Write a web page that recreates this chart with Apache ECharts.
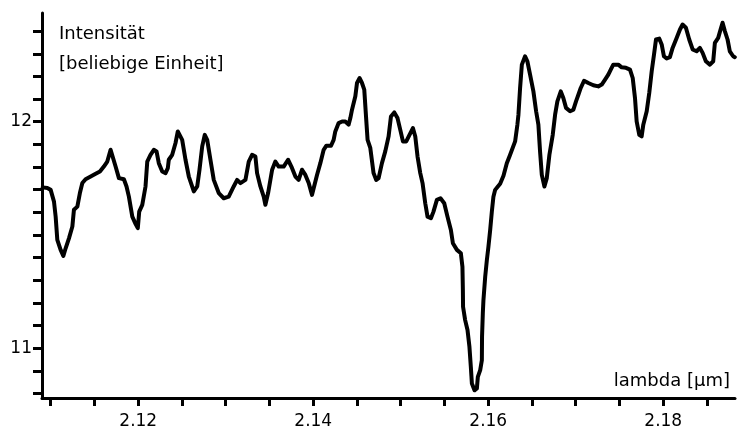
<!DOCTYPE html>
<html>
<head>
<meta charset="utf-8">
<title>Intensität über lambda</title>
<script src="https://cdn.jsdelivr.net/npm/echarts@6/dist/echarts.min.js"></script>
<style>
  html, body { margin: 0; padding: 0; background: #fff; }
  #chart { width: 744px; height: 430px; }
</style>
</head>
<body>
<div id="chart"></div>
<script>
// Wellenlänge in µm
const lambdaValues = [
  2.10908, 2.10961, 2.10999, 2.11037, 2.11056, 2.11075, 2.11113, 2.11144, 2.11170, 2.11208,
  2.11247, 2.11265, 2.11304, 2.11333, 2.11361, 2.11398, 2.11456, 2.11513, 2.11562, 2.11607,
  2.11646, 2.11684, 2.11703, 2.11741, 2.11779, 2.11836, 2.11866, 2.11893, 2.11932, 2.11969,
  2.11995, 2.12011, 2.12046, 2.12083, 2.12103, 2.12140, 2.12178, 2.12209, 2.12235, 2.12274,
  2.12312, 2.12338, 2.12349, 2.12388, 2.12426, 2.12452, 2.12464, 2.12502, 2.12540, 2.12578,
  2.12635, 2.12674, 2.12700, 2.12731, 2.12760, 2.12788, 2.12825, 2.12863, 2.12920, 2.12977,
  2.13034, 2.13091, 2.13130, 2.13168, 2.13225, 2.13263, 2.13301, 2.13339, 2.13358, 2.13396,
  2.13434, 2.13453, 2.13484, 2.13530, 2.13567, 2.13605, 2.13662, 2.13712, 2.13750, 2.13796,
  2.13833, 2.13872, 2.13910, 2.13948, 2.13986, 2.14043, 2.14081, 2.14119, 2.14150, 2.14203,
  2.14233, 2.14252, 2.14290, 2.14329, 2.14366, 2.14404, 2.14424, 2.14443, 2.14481, 2.14500,
  2.14530, 2.14557, 2.14583, 2.14603, 2.14621, 2.14652, 2.14689, 2.14720, 2.14747, 2.14785,
  2.14823, 2.14861, 2.14888, 2.14926, 2.14963, 2.14994, 2.15025, 2.15063, 2.15100, 2.15139,
  2.15166, 2.15192, 2.15223, 2.15249, 2.15280, 2.15306, 2.15345, 2.15374, 2.15413, 2.15454,
  2.15497, 2.15534, 2.15573, 2.15596, 2.15642, 2.15687, 2.15705, 2.15710, 2.15712, 2.15736,
  2.15763, 2.15785, 2.15801, 2.15813, 2.15843, 2.15870, 2.15881, 2.15908, 2.15927, 2.15929,
  2.15938, 2.15945, 2.15965, 2.15984, 2.16002, 2.16022, 2.16041, 2.16059, 2.16079, 2.16110,
  2.16136, 2.16174, 2.16212, 2.16250, 2.16307, 2.16333, 2.16345, 2.16364, 2.16384, 2.16421,
  2.16447, 2.16478, 2.16516, 2.16547, 2.16573, 2.16592, 2.16612, 2.16642, 2.16669, 2.16699,
  2.16737, 2.16764, 2.16790, 2.16829, 2.16858, 2.16889, 2.16935, 2.16973, 2.17003, 2.17030,
  2.17057, 2.17095, 2.17144, 2.17201, 2.17258, 2.17297, 2.17335, 2.17372, 2.17400, 2.17429,
  2.17486, 2.17525, 2.17574, 2.17620, 2.17651, 2.17677, 2.17696, 2.17726, 2.17753, 2.17772,
  2.17811, 2.17840, 2.17868, 2.17894, 2.17917, 2.17954, 2.17982, 2.18008, 2.18039, 2.18076,
  2.18107, 2.18153, 2.18191, 2.18221, 2.18259, 2.18297, 2.18336, 2.18381, 2.18419, 2.18450,
  2.18487, 2.18533, 2.18571, 2.18590, 2.18628, 2.18655, 2.18678, 2.18704, 2.18735, 2.18761,
  2.18799, 2.18818
];

// Intensität in beliebiger Einheit
const intensityValues = [
  11.710, 11.707, 11.699, 11.647, 11.581, 11.478, 11.434, 11.407, 11.441, 11.485,
  11.537, 11.611, 11.625, 11.685, 11.729, 11.746, 11.758, 11.770, 11.780, 11.802,
  11.824, 11.876, 11.869, 11.802, 11.751, 11.746, 11.714, 11.669, 11.581, 11.549,
  11.530, 11.603, 11.633, 11.714, 11.824, 11.854, 11.876, 11.869, 11.817, 11.780,
  11.773, 11.795, 11.832, 11.854, 11.906, 11.957, 11.965, 11.920, 11.832, 11.758,
  11.692, 11.714, 11.788, 11.891, 11.942, 11.920, 11.832, 11.743, 11.685, 11.662,
  11.669, 11.714, 11.743, 11.729, 11.743, 11.824, 11.854, 11.846, 11.773, 11.714,
  11.669, 11.633, 11.685, 11.788, 11.824, 11.802, 11.802, 11.832, 11.802, 11.758,
  11.743, 11.788, 11.765, 11.729, 11.677, 11.765, 11.817, 11.876, 11.894, 11.894,
  11.920, 11.957, 11.994, 12.001, 12.001, 11.987, 12.016, 12.053, 12.112, 12.171,
  12.193, 12.171, 12.142, 12.023, 11.920, 11.884, 11.773, 11.743, 11.751, 11.817,
  11.869, 11.935, 12.023, 12.041, 12.016, 11.965, 11.913, 11.913, 11.942, 11.972,
  11.935, 11.846, 11.773, 11.729, 11.640, 11.581, 11.574, 11.603, 11.655, 11.662,
  11.640, 11.581, 11.522, 11.463, 11.434, 11.419, 11.360, 11.257, 11.183, 11.124,
  11.080, 11.006, 10.917, 10.844, 10.814, 10.822, 10.873, 10.903, 10.947, 11.050,
  11.154, 11.212, 11.315, 11.389, 11.448, 11.522, 11.603, 11.669, 11.699, 11.714,
  11.726, 11.761, 11.817, 11.854, 11.913, 11.987, 12.031, 12.149, 12.252, 12.289,
  12.267, 12.208, 12.134, 12.046, 11.987, 11.869, 11.765, 11.714, 11.751, 11.854,
  11.942, 12.031, 12.090, 12.134, 12.105, 12.061, 12.046, 12.053, 12.090, 12.119,
  12.149, 12.181, 12.171, 12.161, 12.156, 12.164, 12.186, 12.208, 12.230, 12.252,
  12.252, 12.240, 12.238, 12.230, 12.193, 12.105, 12.001, 11.942, 11.935, 11.987,
  12.046, 12.127, 12.223, 12.296, 12.363, 12.367, 12.341, 12.289, 12.279, 12.285,
  12.326, 12.370, 12.407, 12.429, 12.415, 12.363, 12.319, 12.311, 12.326, 12.304,
  12.267, 12.252, 12.267, 12.348, 12.370, 12.407, 12.437, 12.400, 12.363, 12.311,
  12.289, 12.285
];

// Teilstriche und Beschriftungen der Achsen
const lambdaTicks = [2.110, 2.115, 2.120, 2.125, 2.130, 2.135, 2.140, 2.145,
                     2.150, 2.155, 2.160, 2.165, 2.170, 2.175, 2.180, 2.185];
const lambdaLabels = [2.12, 2.14, 2.16, 2.18];
const intensityTicks = [10.8, 10.9, 11.0, 11.1, 11.2, 11.3, 11.4, 11.5, 11.6,
                        11.7, 11.8, 11.9, 12.0, 12.1, 12.2, 12.3, 12.4];
const intensityLabels = [11, 12];

const yTitle = 'Intensität\n[beliebige Einheit]';
const xTitle = 'lambda [µm]';

const FONT = 'DejaVu Sans';
const INK = '#000';

const chart = echarts.init(document.getElementById('chart'), null, { renderer: 'canvas' });

chart.setOption({
  backgroundColor: '#fff',
  animation: false,
  textStyle: { fontFamily: FONT },
  grid: { left: 42, right: 9, top: 13, bottom: 32, containLabel: false },
  title: [
    {
      text: yTitle,
      left: 59, top: 19, padding: 0,
      textStyle: { fontFamily: FONT, fontSize: 18, fontWeight: 'normal', color: INK, lineHeight: 30 }
    },
    {
      text: xTitle,
      right: 14, top: 366, padding: 0,
      textStyle: { fontFamily: FONT, fontSize: 18, fontWeight: 'normal', color: INK, lineHeight: 30 }
    }
  ],
  xAxis: {
    type: 'value',
    min: 2.109,
    max: 2.1882,
    splitLine: { show: false },
    axisLine: { show: true, onZero: false, lineStyle: { color: INK, width: 3 } },
    axisTick: {
      show: true, inside: false, length: 8,
      customValues: lambdaTicks,
      lineStyle: { color: INK, width: 3 }
    },
    axisLabel: {
      show: true, margin: 15,
      customValues: lambdaLabels,
      formatter: v => v.toFixed(2),
      color: INK, fontFamily: FONT, fontSize: 17
    }
  },
  yAxis: {
    type: 'value',
    min: 10.78,
    max: 12.48,
    splitLine: { show: false },
    axisLine: { show: true, onZero: false, lineStyle: { color: INK, width: 3 } },
    axisTick: {
      show: true, inside: false, length: 9,
      customValues: intensityTicks,
      lineStyle: { color: INK, width: 3 }
    },
    axisLabel: {
      show: true, margin: 10,
      customValues: intensityLabels,
      formatter: v => String(Math.round(v)),
      color: INK, fontFamily: FONT, fontSize: 17
    }
  },
  series: [{
    type: 'line',
    data: lambdaValues.map((x, i) => [x, intensityValues[i]]),
    showSymbol: false,
    smooth: false,
    clip: false,
    lineStyle: { color: INK, width: 4, join: 'round', cap: 'round' }
  }]
});
</script>
</body>
</html>
